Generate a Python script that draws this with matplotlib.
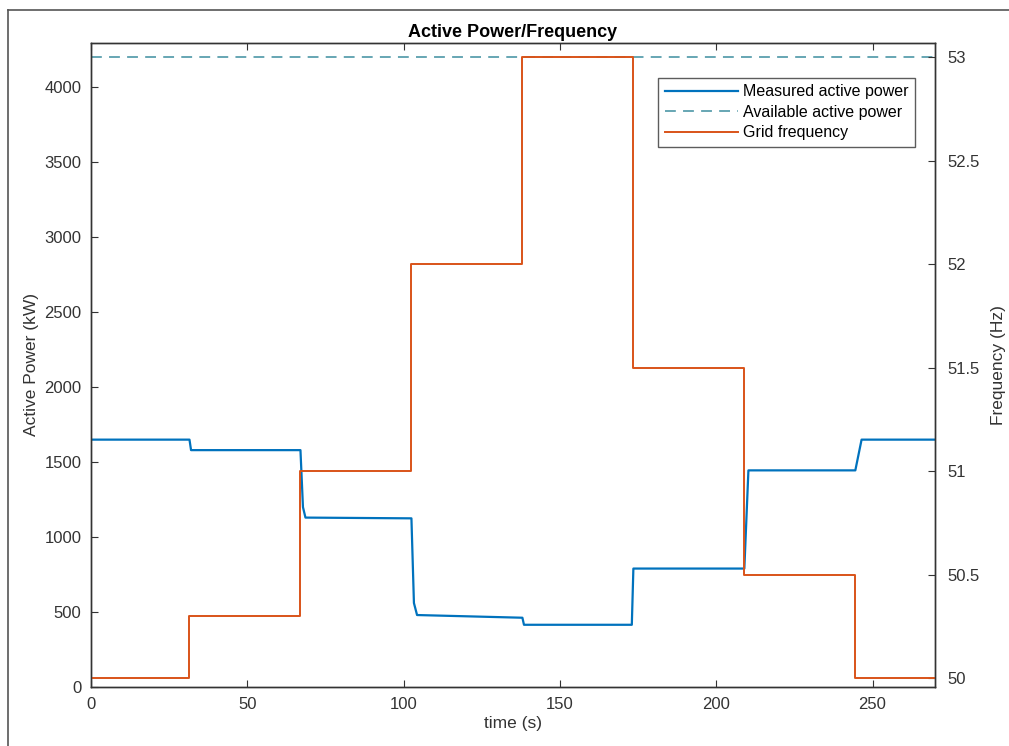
import numpy as np
import matplotlib
matplotlib.use('Agg')
import matplotlib.pyplot as plt
from matplotlib.lines import Line2D

plt.rcParams['font.family'] = ['Liberation Sans', 'DejaVu Sans']

# measured active power (kW), breakpoints
power_t = [0, 31.5, 32.0, 67.0, 67.8, 68.6, 102.5, 103.3, 104.3, 138.0, 138.5,
           173.0, 173.5, 209.0, 210.3, 244.5, 246.5, 270]
power_kw = [1650, 1650, 1580, 1580, 1200, 1130, 1125, 560, 480, 462, 415,
            415, 790, 790, 1445, 1445, 1650, 1650]

# available active power (kW)
avail_t = [0, 270]
avail_kw = [4200, 4200]

# grid frequency (Hz), step changes
freq_t = [0, 31.5, 67, 102.5, 138, 173.5, 209, 244.5, 270]
freq_hz = [50.0, 50.3, 51.0, 52.0, 53.0, 51.5, 50.5, 50.0, 50.0]

col_power = '#0072BD'
col_avail = '#5b9fae'
col_freq = '#D95319'
col_axis = '#333333'

fig = plt.figure(figsize=(10.09, 7.46), dpi=100)
ax = fig.add_axes([0.0902, 0.0791, 0.8365, 0.8633])
ax2 = ax.twinx()

l1, = ax.plot(power_t, power_kw, color=col_power, lw=1.6, label='Measured active power')
l2, = ax.plot(avail_t, avail_kw, color=col_avail, lw=1.3, ls=(0, (6, 4)),
              label='Available active power')
l3, = ax2.plot(freq_t, freq_hz, color=col_freq, lw=1.4, drawstyle='steps-post',
               label='Grid frequency')

ax.set_xlim(0, 270)
ax.set_ylim(0, 4296)
ax2.set_ylim(49.957, 53.068)
ax.set_xticks([0, 50, 100, 150, 200, 250])
ax.set_yticks(np.arange(0, 4001, 500))
ax2.set_yticks([50, 50.5, 51, 51.5, 52, 52.5, 53])
ax2.set_yticklabels(['50', '50.5', '51', '51.5', '52', '52.5', '53'])

for a in (ax, ax2):
    for s in a.spines.values():
        s.set_color(col_axis)
        s.set_linewidth(1.0)
ax.tick_params(axis='x', direction='in', top=True, length=5, colors=col_axis,
               labelsize=12, pad=7)
ax.tick_params(axis='y', direction='in', length=5, colors=col_axis, labelsize=12, pad=7)
ax2.tick_params(axis='y', direction='in', length=5, colors=col_axis, labelsize=12, pad=9)

ax.set_xlabel('time (s)', fontsize=12.5, color=col_axis, labelpad=3)
ax.set_ylabel('Active Power (kW)', fontsize=12.5, color=col_axis, labelpad=4)
ax2.set_ylabel('Frequency (Hz)', fontsize=12.5, color=col_axis, labelpad=8)
ax.set_title('Active Power/Frequency', fontsize=13, fontweight='bold', pad=4)

leg = ax2.legend(handles=[l1, l2, l3], loc='upper right', bbox_to_anchor=(0.976, 0.946),
                 fontsize=11.5, frameon=True, fancybox=False, borderaxespad=0,
                 handlelength=4.6, labelspacing=0.35, borderpad=0.4, handletextpad=0.3)
leg.get_frame().set_edgecolor(col_axis)
leg.get_frame().set_linewidth(1.0)

# screenshot frame (top and left edges)
fig.add_artist(Line2D([0.008, 1.0], [0.987, 0.987], color='#555555', lw=1.2,
                      transform=fig.transFigure))
fig.add_artist(Line2D([0.008, 0.008], [0.0, 0.987], color='#555555', lw=1.2,
                      transform=fig.transFigure))

fig.savefig('out.png', dpi=100)
